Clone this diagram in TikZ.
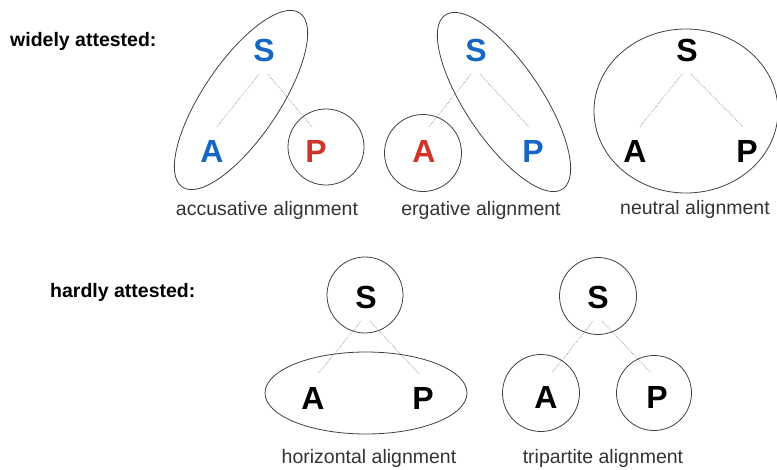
\documentclass[tikz,border=0pt]{standalone}
\usepackage{fontspec}
\setmainfont{Liberation Sans}
\definecolor{lblue}{RGB}{22,102,196}
\definecolor{lred}{RGB}{206,52,42}
\begin{document}
\begin{tikzpicture}[x=1pt,y=-1pt,
  letter/.style={font=\fontsize{32}{32}\selectfont\bfseries, inner sep=0pt, minimum height=48pt},
  caption/.style={font=\fontsize{19.5}{20}\selectfont, text=black!80, anchor=base, inner sep=0pt},
  head/.style={font=\fontsize{19.5}{20}\selectfont\bfseries, anchor=base west, inner sep=0pt},
  conn/.style={gray!80, line width=0.7pt, densely dotted},
  ring/.style={draw=black!75, line width=0.8pt}]
\useasboundingbox (0,0) rectangle (777,469);
% headings
\node[head] (h1) at (10,46) {widely attested:};
\node[head] (h2) at (50,297) {hardly attested:};
% accusative
\node[letter, text=lblue] (S1) at (264,50) {S};
\node[letter, text=lblue] (A1) at (212,151) {A};
\node[letter, text=lred] (P1) at (316,151) {P};
\draw[conn] ([xshift=-5]S1.south) -- ([xshift=5]A1.north);
\draw[conn] ([xshift=4]S1.south) -- ([xshift=-4]P1.north);
\draw[ring, shift={(241,100)}, rotate=56] (0,0) ellipse (105 and 38);
\draw[ring] (326,147) circle (38);
\node[caption] (c1) at (267,215) {accusative alignment};
% ergative
\node[letter, text=lblue] (S2) at (476,50) {S};
\node[letter, text=lred] (A2) at (424,151) {A};
\node[letter, text=lblue] (P2) at (533,151) {P};
\draw[conn] ([xshift=-5]S2.south) -- ([xshift=5]A2.north);
\draw[conn] ([xshift=4]S2.south) -- ([xshift=-4]P2.north);
\draw[ring, shift={(504,102)}, rotate=-56] (0,0) ellipse (105 and 38);
\draw[ring] (423,153) circle (38.5);
\node[caption] (c2) at (481,215) {ergative alignment};
% neutral
\node[letter] (S3) at (687,50) {S};
\node[letter] (A3) at (635,151) {A};
\node[letter] (P3) at (747,151) {P};
\draw[conn] ([xshift=-5]S3.south) -- ([xshift=5]A3.north);
\draw[conn] ([xshift=4]S3.south) -- ([xshift=-4]P3.north);
\draw[ring] (686,111) ellipse (92 and 82);
\node[caption] (c3) at (695,214) {neutral alignment};
% horizontal
\node[letter] (S4) at (366,297) {S};
\node[letter] (A4) at (313,398) {A};
\node[letter] (P4) at (423,398) {P};
\draw[conn] ([xshift=-5]S4.south) -- ([xshift=5]A4.north);
\draw[conn] ([xshift=4]S4.south) -- ([xshift=-4]P4.north);
\draw[ring] (365,295) circle (38);
\draw[ring] (366,393) ellipse (101 and 41);
\node[caption] (c4) at (369,463.5) {horizontal alignment};
% tripartite
\node[letter] (S5) at (598,297) {S};
\node[letter] (A5) at (546,397) {A};
\node[letter] (P5) at (657,397) {P};
\draw[conn] ([xshift=-5]S5.south) -- ([xshift=6]A5.north);
\draw[conn] ([xshift=4]S5.south) -- ([xshift=-6]P5.north);
\draw[ring] (598,296) circle (38.5);
\draw[ring] (541,393) circle (38.5);
\draw[ring] (654,393) circle (37.5);
\node[caption] (c5) at (603,463.5) {tripartite alignment};
\end{tikzpicture}
\end{document}
